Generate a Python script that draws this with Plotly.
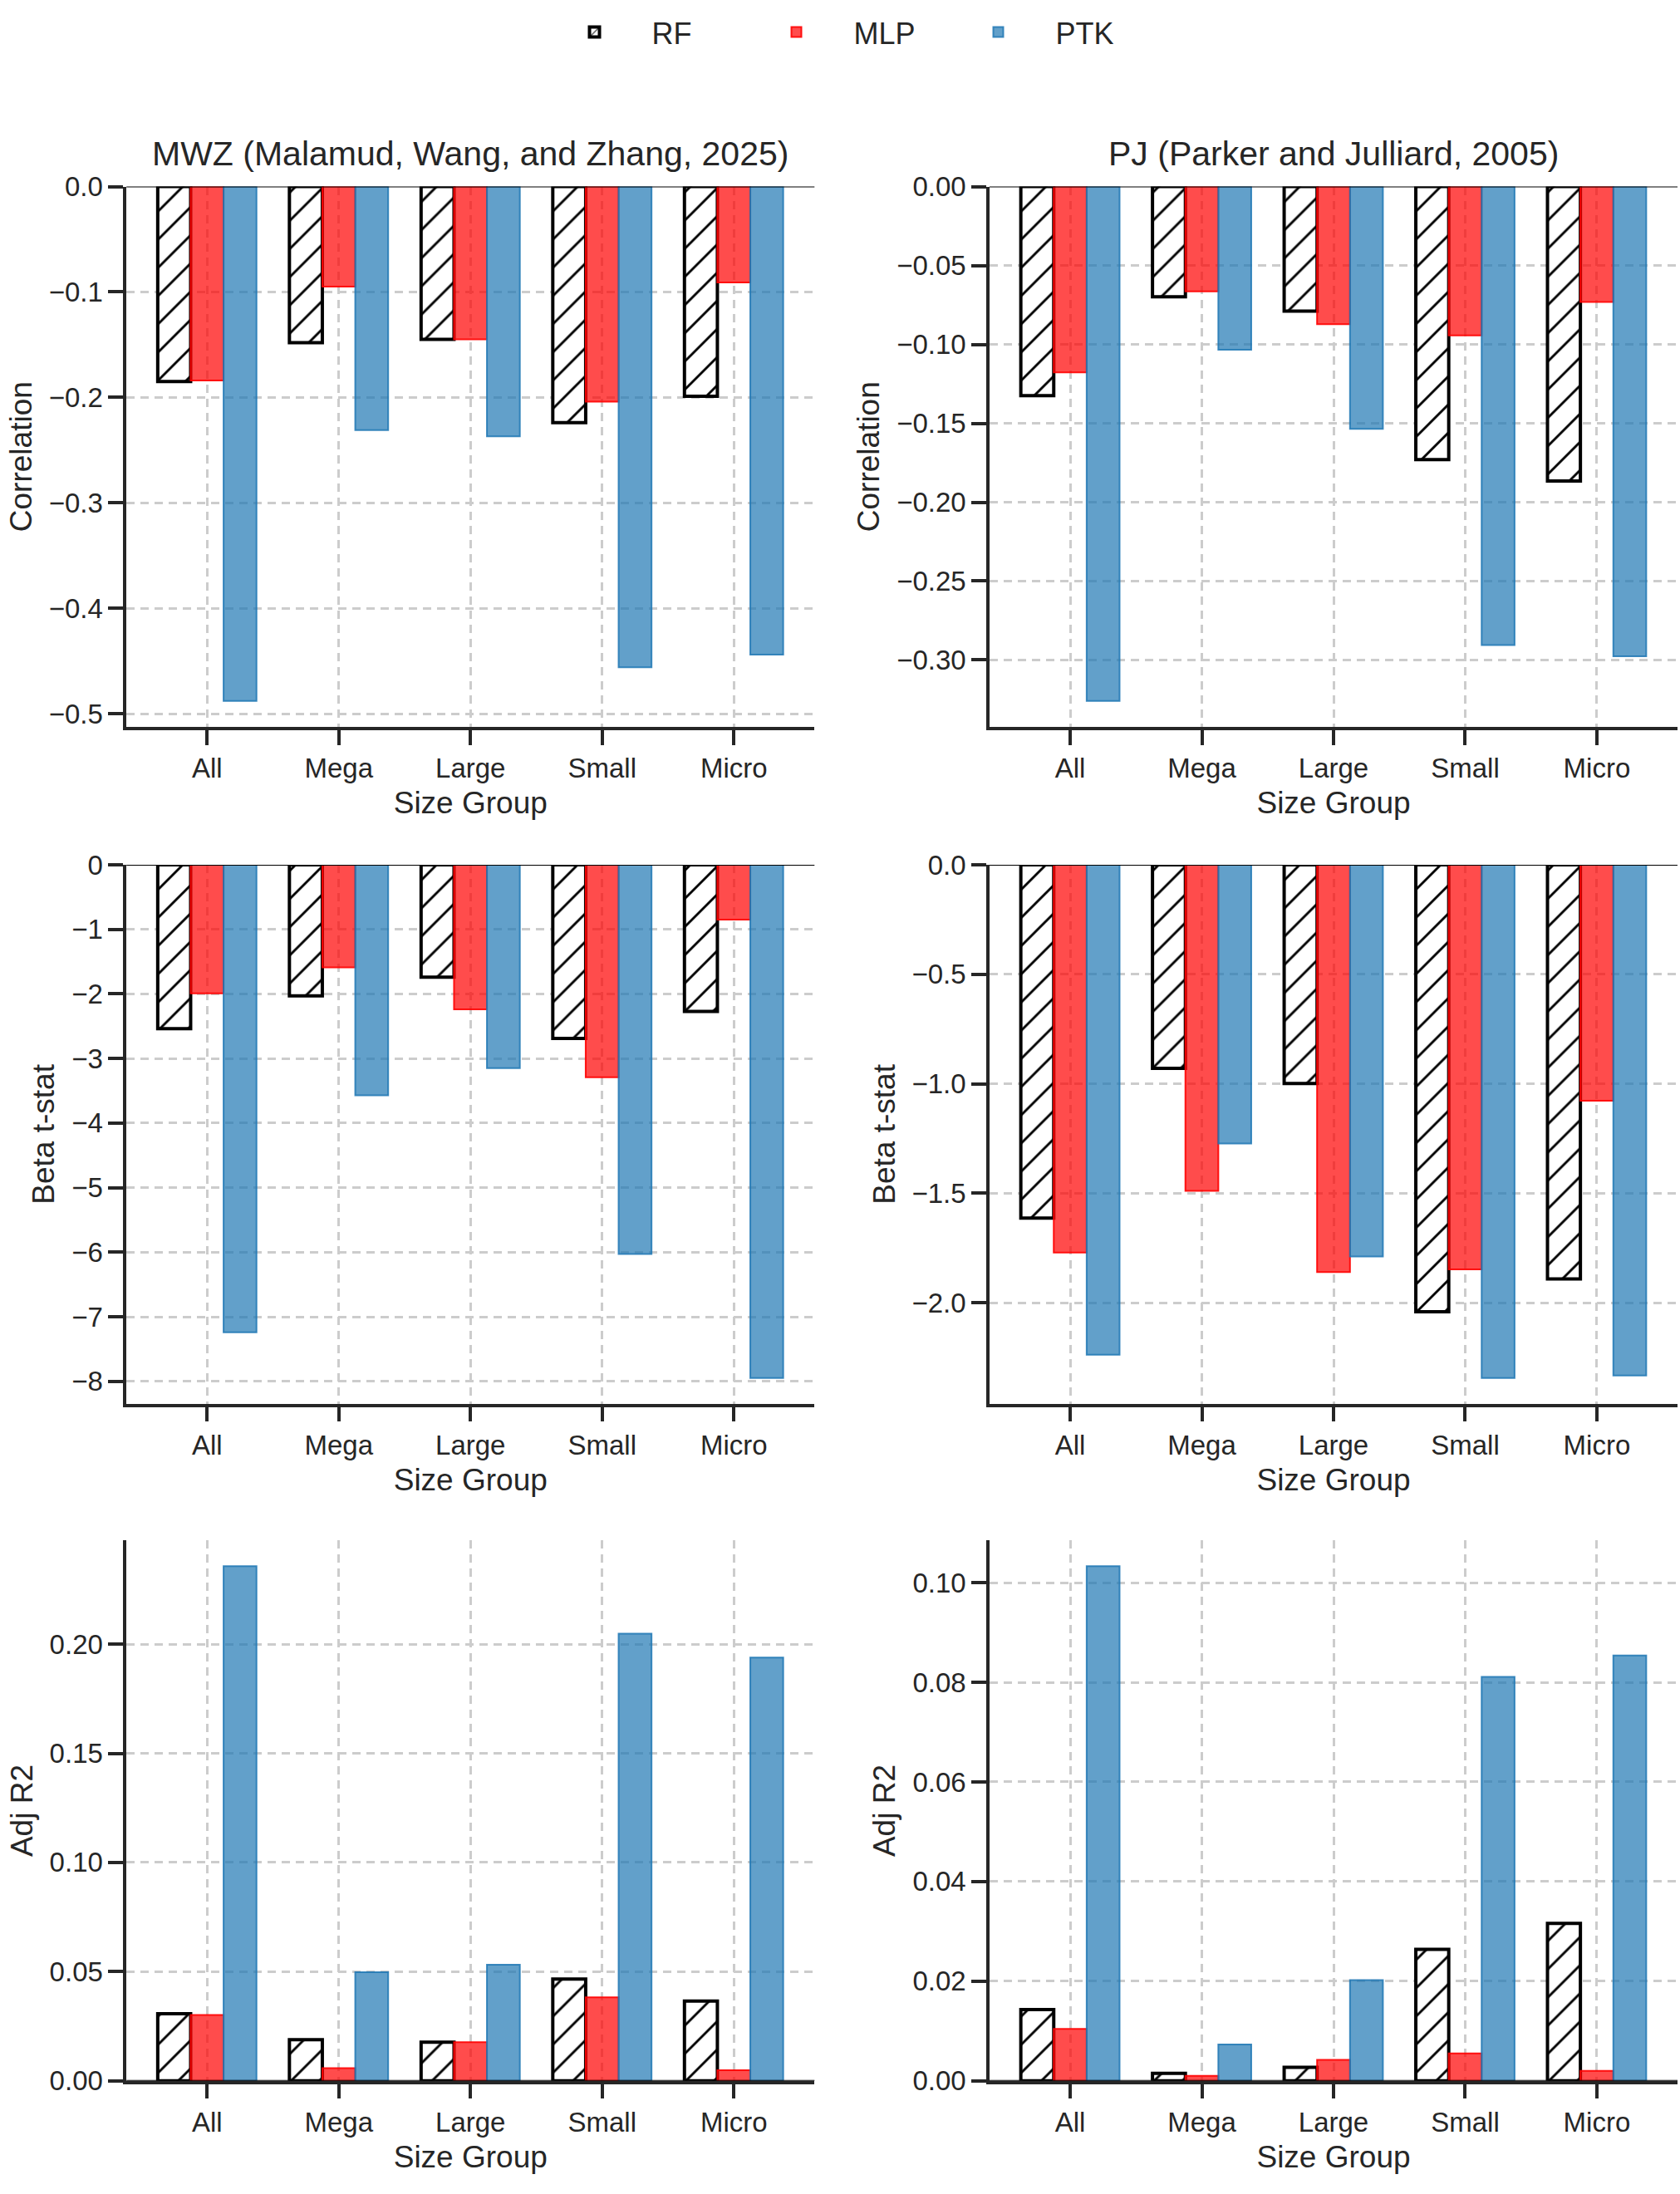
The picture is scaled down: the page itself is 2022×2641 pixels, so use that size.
import plotly.graph_objects as go

# ---------------- data ----------------
categories = ["All", "Mega", "Large", "Small", "Micro"]
models = ["RF", "MLP", "PTK"]

mwz_corr_rf = [-0.185, -0.148, -0.145, -0.224, -0.199]
mwz_corr_mlp = [-0.184, -0.095, -0.145, -0.204, -0.091]
mwz_corr_ptk = [-0.488, -0.231, -0.237, -0.456, -0.444]

pj_corr_rf = [-0.1325, -0.0698, -0.0789, -0.1730, -0.1866]
pj_corr_mlp = [-0.1177, -0.0664, -0.0872, -0.0943, -0.0732]
pj_corr_ptk = [-0.3260, -0.1034, -0.1536, -0.2906, -0.2977]

mwz_t_rf = [-2.54, -2.03, -1.74, -2.69, -2.27]
mwz_t_mlp = [-1.99, -1.59, -2.24, -3.29, -0.85]
mwz_t_ptk = [-7.24, -3.57, -3.15, -6.03, -7.95]

pj_t_rf = [-1.613, -0.930, -0.999, -2.041, -1.891]
pj_t_mlp = [-1.771, -1.489, -1.860, -1.848, -1.078]
pj_t_ptk = [-2.237, -1.273, -1.789, -2.344, -2.332]

mwz_r2_rf = [0.0307, 0.0188, 0.0177, 0.0466, 0.0365]
mwz_r2_mlp = [0.0301, 0.0058, 0.0177, 0.0382, 0.0048]
mwz_r2_ptk = [0.2357, 0.0497, 0.0532, 0.2048, 0.1939]

pj_r2_rf = [0.0143, 0.0015, 0.0027, 0.0264, 0.0316]
pj_r2_mlp = [0.0104, 0.0010, 0.0042, 0.0055, 0.0020]
pj_r2_ptk = [0.1033, 0.0073, 0.0202, 0.0811, 0.0854]

column_titles = ["MWZ (Malamud, Wang, and Zhang, 2025)", "PJ (Parker and Julliard, 2005)"]
row_labels = ["Correlation", "Beta t-stat", "Adj R2"]
x_label = "Size Group"

panels = [
    (mwz_corr_rf, mwz_corr_mlp, mwz_corr_ptk),
    (pj_corr_rf, pj_corr_mlp, pj_corr_ptk),
    (mwz_t_rf, mwz_t_mlp, mwz_t_ptk),
    (pj_t_rf, pj_t_mlp, pj_t_ptk),
    (mwz_r2_rf, mwz_r2_mlp, mwz_r2_ptk),
    (pj_r2_rf, pj_r2_mlp, pj_r2_ptk),
]
tick_steps = [0.1, 0.05, 1, 0.5, 0.05, 0.02]
tick_formats = [".1f", ".2f", "", ".1f", ".2f", ".2f"]

# ---------------- style ----------------
W, H = 2022, 2641
FONT = "Liberation Sans, Arial, Helvetica, sans-serif"
TXT = "#262626"
x_dom_px = [(152.2, 980.3), (1191.0, 2019.0)]
y_dom_px = [(209.5, 869.0), (1037.5, 1695.5), (1862.5, 2522.0)]

styles = {
    "RF": dict(color="white", line=dict(color="black", width=4),
               pattern=dict(shape="/", fgcolor="black", bgcolor="white",
                            size=24, solidity=0.12, fillmode="replace")),
    "MLP": dict(color="rgba(255,0,0,0.7)", line=dict(color="rgba(255,0,0,0.9)", width=2)),
    "PTK": dict(color="rgba(31,119,180,0.7)", line=dict(color="rgba(31,119,180,0.85)", width=2)),
}

fig = go.Figure()
layout = dict(
    width=W, height=H,
    margin=dict(l=0, r=0, t=0, b=0),
    paper_bgcolor="white", plot_bgcolor="white",
    barmode="group", bargap=0.25, bargroupgap=0.0,
    font=dict(family=FONT, color=TXT, size=33),
    showlegend=True,
    legend=dict(orientation="h", x=0.5, xanchor="center", y=1 - 21 / H, yanchor="middle",
                font=dict(size=36, family=FONT, color=TXT),
                itemwidth=128, entrywidth=100, entrywidthmode="pixels",
                bgcolor="rgba(0,0,0,0)"),
)

annotations = []
shapes = []
for k, series in enumerate(panels):
    r, c = divmod(k, 2)
    idx = k + 1
    xa = "x" if idx == 1 else f"x{idx}"
    ya = "y" if idx == 1 else f"y{idx}"
    for m, vals in zip(models, series):
        fig.add_trace(go.Bar(
            x=categories, y=vals, name=m, marker=styles[m],
            legendgroup=m, showlegend=(k == 0),
            xaxis=xa, yaxis=ya,
        ))
    allv = [v for s in series for v in s]
    lo, hi = min(allv), max(allv)
    yr = [lo * 1.05, 0] if lo < 0 else [0, hi * 1.05]
    x0, x1 = x_dom_px[c]
    yt, yb = y_dom_px[r]
    common = dict(
        showline=True, linecolor=TXT, linewidth=3.5,
        ticks="outside", ticklen=18, tickwidth=3.5, tickcolor=TXT,
        showgrid=True, gridcolor="#cccccc", gridwidth=2.5, griddash="10px,7px",
        zeroline=False, mirror=False,
        tickfont=dict(size=33, family=FONT, color=TXT),
    )
    layout["xaxis" if idx == 1 else f"xaxis{idx}"] = dict(
        common, domain=[x0 / W, x1 / W], anchor=ya,
        type="category", range=[-0.6125, 4.6125],
        title=dict(text=x_label, font=dict(size=37, family=FONT, color=TXT), standoff=12),
    )
    ydict = dict(
        common, domain=[1 - yb / H, 1 - yt / H], anchor=xa,
        range=yr, tick0=0, dtick=tick_steps[k],
        title=dict(text=row_labels[r], font=dict(size=37, family=FONT, color=TXT), standoff=10),
    )
    if tick_formats[k]:
        ydict["tickformat"] = tick_formats[k]
    layout["yaxis" if idx == 1 else f"yaxis{idx}"] = ydict
    shapes.append(dict(type="line", xref=f"{xa} domain", yref=ya, x0=0, x1=1, y0=0, y1=0,
                       line=dict(color="black", width=2), layer="above"))
    if r == 0:
        annotations.append(dict(text=column_titles[c], xref=f"{xa} domain", yref=f"{ya} domain",
                                x=0.5, y=1, xanchor="center", yanchor="middle", yshift=40,
                                showarrow=False, font=dict(size=41, family=FONT, color=TXT)))

layout["annotations"] = annotations
layout["shapes"] = shapes
fig.update_layout(**layout)
fig.write_html("out.html")
